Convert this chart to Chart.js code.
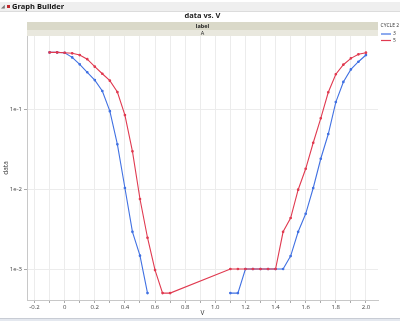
<!DOCTYPE html>
<html>
<head>
<meta charset="utf-8">
<script src="https://cdn.jsdelivr.net/npm/chart.js@4/dist/chart.umd.min.js"></script>
<style>
  body { margin: 0; background: #fff; font-family: "Open Sans", "DejaVu Sans", sans-serif; }
  #wrap { position: relative; width: 400px; height: 321px; }
  #head { position: absolute; left: 0; top: 2px; width: 400px; height: 9px; background: #efefef; border-bottom: 1px solid #dcdcdc; font-size: 7.5px; font-weight: bold; line-height: 9px; color: #111; }
  #head .tri { position: absolute; left: 1px; top: 0; color: #777; font-size: 5px; font-weight: normal; }
  #head .dot { position: absolute; left: 7px; top: 3px; width: 3px; height: 3px; background: #c0282c; }
  #head .txt { position: absolute; left: 12px; top: 0; }
  #foot { position: absolute; left: 0; top: 318px; width: 400px; height: 3px; background: #e4e8ef; border-top: 1px solid #c8ccd4; }
</style>
</head>
<body>
<div id="wrap">
  <canvas id="chart" width="400" height="321"></canvas>
  <div id="head"><span class="tri">&#9698;</span><span class="dot"></span><span class="txt">Graph Builder</span></div>
  <div id="foot"></div>
</div>
<script>
// values
const vBlue = [-0.1, -0.05, 0, 0.05, 0.1, 0.15, 0.2, 0.25, 0.3, 0.35, 0.4, 0.45, 0.5, 0.55, 0.6,
    1.1, 1.15, 1.2, 1.25, 1.3, 1.35, 1.4, 1.45, 1.5, 1.55, 1.6, 1.65, 1.7, 1.75, 1.8, 1.85, 1.9, 1.95, 2.0];
const dataBlue = [0.51, 0.51, 0.505, 0.442, 0.362, 0.288, 0.23, 0.168, 0.094, 0.0362, 0.0103, 0.00292, 0.00147, 0.0005, null,
    0.0005, 0.0005, 0.001, 0.001, 0.001, 0.001, 0.001, 0.001, 0.00145, 0.00292, 0.0049, 0.0103, 0.0239, 0.0487, 0.122, 0.218, 0.313, 0.39, 0.473];
const vRed = [-0.1, -0.05, 0, 0.05, 0.1, 0.15, 0.2, 0.25, 0.3, 0.35, 0.4, 0.45, 0.5, 0.55, 0.6, 0.65, 0.7,
    1.1, 1.15, 1.2, 1.25, 1.3, 1.35, 1.4, 1.45, 1.5, 1.55, 1.6, 1.65, 1.7, 1.75, 1.8, 1.85, 1.9, 1.95, 2.0];
const dataRed = [0.51, 0.51, 0.505, 0.497, 0.473, 0.42, 0.338, 0.276, 0.226, 0.163, 0.084, 0.0296, 0.0075, 0.00246, 0.00097, 0.0005, 0.0005,
    0.001, 0.001, 0.001, 0.001, 0.001, 0.001, 0.001, 0.00292, 0.00434, 0.0098, 0.0179, 0.0379, 0.0765, 0.162, 0.272, 0.358, 0.43, 0.483, 0.506];
const yTicks = [0.001, 0.01, 0.1];
const yTickLabels = ["1e-3", "1e-2", "1e-1"];
const seriesNames = ["3", "5"];
const blue = "#4171e2";
const red = "#e03a50";

function toPoints(xs, ys) {
    return xs.map((x, i) => ({ x: x, y: ys[i] }));
}

// title, facet bands and legend drawn around the plot
const framePlugin = {
    id: 'frame',
    beforeDraw(chart) {
        const ctx = chart.ctx;
        const a = chart.chartArea;
        ctx.save();
        ctx.fillStyle = "#dad9c9";
        ctx.fillRect(a.left, 22, a.right - a.left, 8);
        ctx.fillStyle = "#e9e8de";
        ctx.fillRect(a.left, 30, a.right - a.left, 6);
        ctx.fillStyle = "#222";
        ctx.textAlign = "center";
        ctx.textBaseline = "middle";
        ctx.font = "bold 7.5px 'Open Sans', sans-serif";
        ctx.fillText("data vs. V", (a.left + a.right) / 2, 16);
        ctx.font = "bold 5.5px 'Open Sans', sans-serif";
        ctx.fillText("label", (a.left + a.right) / 2, 26);
        ctx.font = "5.5px 'Open Sans', sans-serif";
        ctx.fillText("A", (a.left + a.right) / 2, 33);
        // legend
        ctx.textAlign = "left";
        ctx.fillStyle = "#333";
        ctx.font = "5px 'Open Sans', sans-serif";
        ctx.fillText("CYCLE 2", 380.5, 26);
        const cols = [blue, red];
        seriesNames.forEach((name, i) => {
            const y = 34 + i * 6.5;
            ctx.strokeStyle = cols[i];
            ctx.lineWidth = 1.2;
            ctx.beginPath();
            ctx.moveTo(381, y);
            ctx.lineTo(391, y);
            ctx.stroke();
            ctx.fillStyle = "#333";
            ctx.fillText(name, 393, y);
        });
        ctx.restore();
    }
};

const ctx = document.getElementById("chart").getContext("2d");
new Chart(ctx, {
    type: 'line',
    data: {
        datasets: [
            {
                label: seriesNames[0],
                data: toPoints(vBlue, dataBlue),
                borderColor: blue,
                backgroundColor: blue,
                borderWidth: 1.1,
                pointRadius: 0.8,
                pointHoverRadius: 0.8,
                spanGaps: false,
                order: 1
            },
            {
                label: seriesNames[1],
                data: toPoints(vRed, dataRed),
                borderColor: red,
                backgroundColor: red,
                borderWidth: 1.1,
                pointRadius: 0.8,
                pointHoverRadius: 0.8,
                order: 0
            }
        ]
    },
    options: {
        responsive: false,
        animation: false,
        layout: { padding: { top: 36, right: 22, left: 0, bottom: 0 } },
        plugins: { legend: { display: false }, title: { display: false }, tooltip: { enabled: false } },
        scales: {
            x: {
                type: 'linear',
                min: -0.25,
                max: 2.08,
                afterFit(scale) { scale.height = 21; },
                ticks: {
                    stepSize: 0.1,
                    includeBounds: false,
                    autoSkip: false,
                    maxRotation: 0,
                    padding: 1,
                    color: "#444",
                    font: { size: 6, family: "'Open Sans', sans-serif" },
                    callback(v) {
                        if (Math.abs(v * 5 - Math.round(v * 5)) > 1e-6) return "";
                        if (Math.abs(v) < 1e-9) return "0";
                        return v.toFixed(1);
                    }
                },
                grid: { color: "#ececec", lineWidth: 1, tickLength: 3, tickColor: "#aaa" },
                border: { color: "#c8c8c8" },
                title: { display: true, text: "V", color: "#333", font: { size: 6.5, family: "'Open Sans', sans-serif" }, padding: { top: 0, bottom: 4 } }
            },
            y: {
                type: 'logarithmic',
                min: 0.00041,
                max: 0.818,
                afterFit(scale) { scale.width = 27; },
                afterBuildTicks(scale) {
                    scale.ticks = yTicks.map(v => ({ value: v }));
                },
                ticks: {
                    padding: 2,
                    color: "#444",
                    font: { size: 6, family: "'Open Sans', sans-serif" },
                    callback(v) {
                        const i = yTicks.indexOf(v);
                        return i >= 0 ? yTickLabels[i] : "";
                    }
                },
                grid: { color: "#ececec", lineWidth: 1, tickLength: 3, tickColor: "#aaa" },
                border: { color: "#c8c8c8" },
                title: { display: true, text: "data", color: "#333", font: { size: 6.5, family: "'Open Sans', sans-serif" }, padding: { top: 2, bottom: 0 } }
            }
        }
    },
    plugins: [framePlugin]
});
</script>
</body>
</html>
